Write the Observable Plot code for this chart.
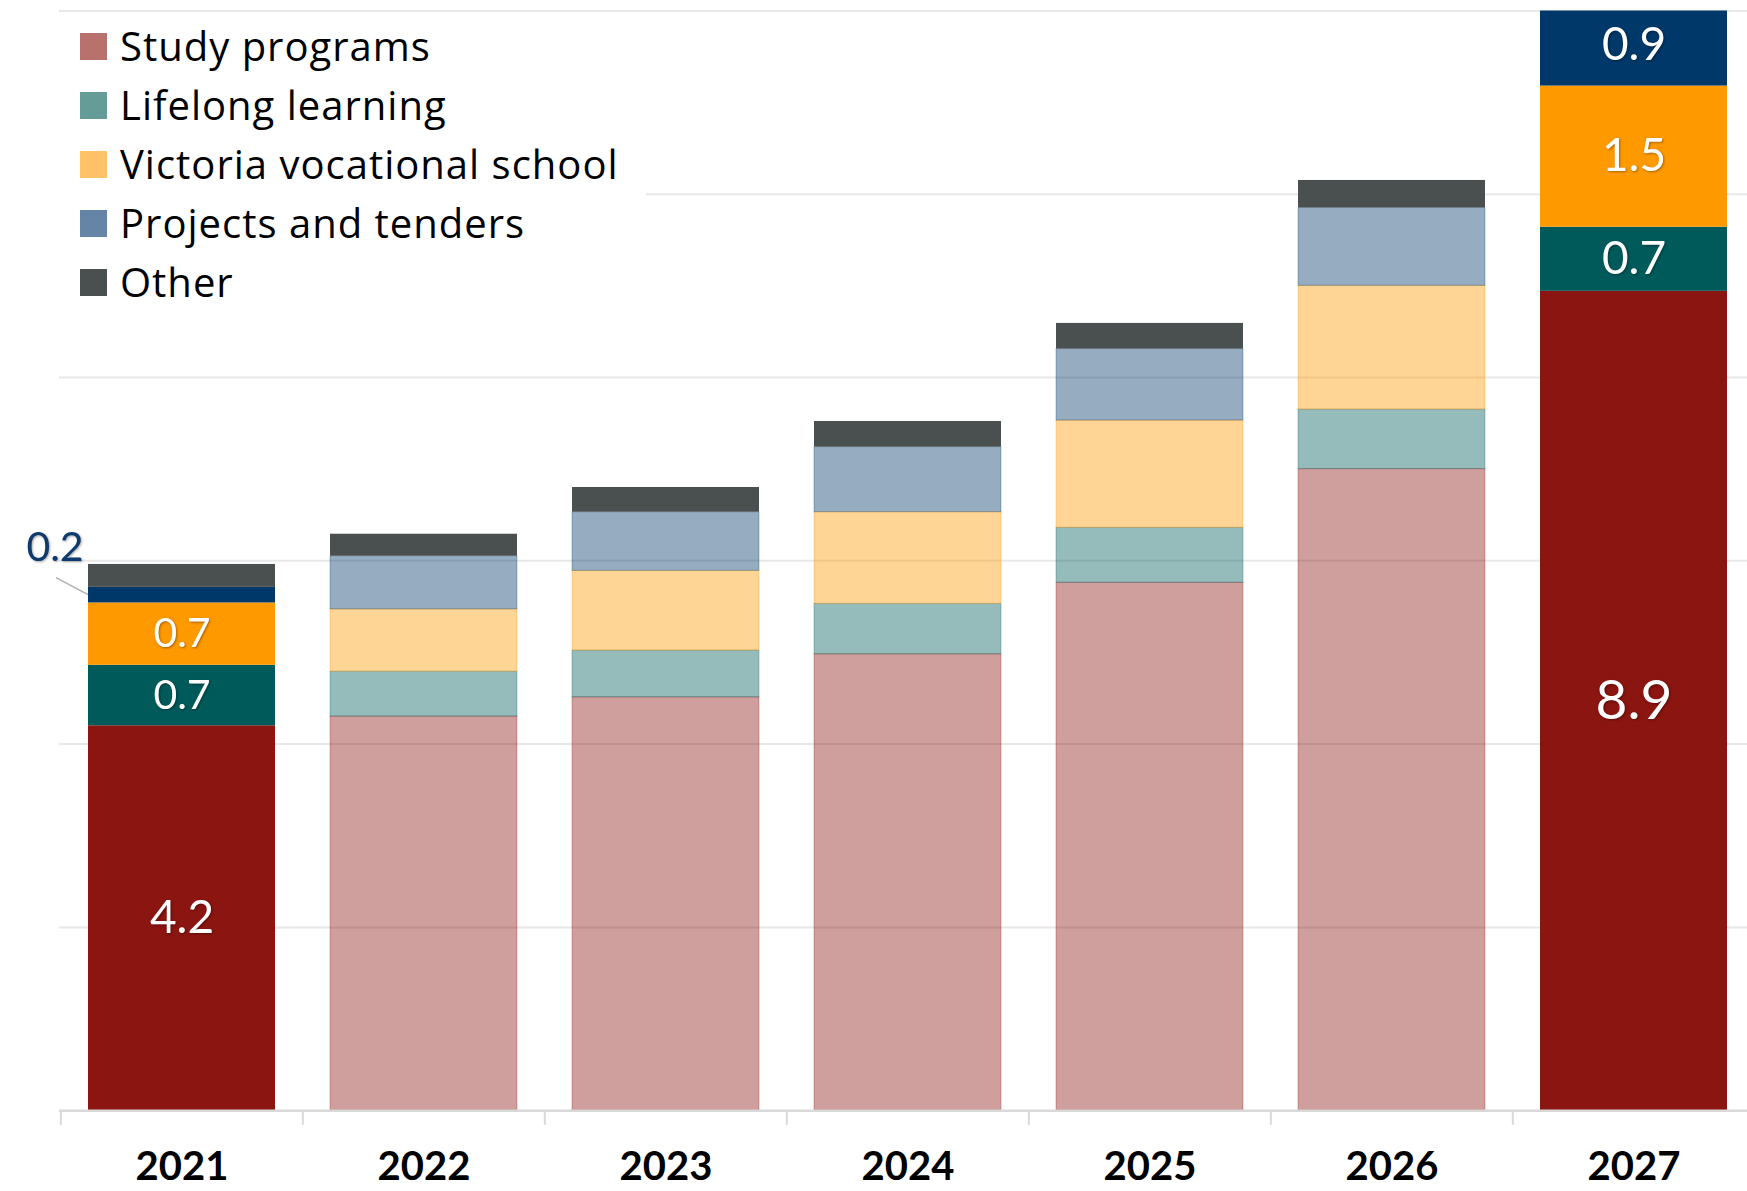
<!DOCTYPE html>
<html>
<head>
<meta charset="utf-8">
<script src="https://cdn.jsdelivr.net/npm/d3@7"></script>
<script src="https://cdn.jsdelivr.net/npm/@observablehq/plot@0.6"></script>
<style>
  html, body { margin: 0; padding: 0; background: #fff; overflow: hidden; }
  #wrap { position: relative; width: 1747px; height: 1191px; overflow: hidden; font-family: Lato, "Open Sans", sans-serif; }
  #legend { position: absolute; left: 59px; top: 16px; width: 587px; height: 300px; background: #fff; }
  .item { position: absolute; left: 21px; height: 40px; display: flex; align-items: center; }
  .sw { width: 27px; height: 27px; margin-right: 13px; flex: none; }
  .lab { font-family: "Open Sans", sans-serif; font-size: 40px; color: #000; white-space: nowrap; line-height: 1; letter-spacing: 1px; }
  #wrap svg { max-width: none !important; }
</style>
</head>
<body>
<div id="wrap"><div id="legend"></div></div>
<script>
// ---- data ----
const years = ["2021", "2022", "2023", "2024", "2025", "2026", "2027"];
const seriesNames = ["Study programs", "Lifelong learning", "Victoria vocational school", "Projects and tenders", "Other"];
const study    = [4.2, 4.3, 4.51, 4.98, 5.76, 7.0, 8.94];
const lifelong = [0.66, 0.49, 0.51, 0.55, 0.6, 0.65, 0.7];
const victoria = [0.68, 0.68, 0.87, 1.0, 1.17, 1.35, 1.54];
const projects = [0.17, 0.58, 0.64, 0.71, 0.78, 0.85, 0.9];
const other    = [0.25, 0.24, 0.27, 0.28, 0.28, 0.3, 0];
const gridTicks = [2, 4, 6, 8, 10, 12];
const highlightYears = ["2021", "2027"];
const barColors = ["#8B1510", "#005A5A", "#FF9900", "#003869", "#4A5050"];
const legendColors = ["#B8716C", "#669C98", "#FFC266", "#6685A6", "#4A5050"];
const outsideLabel = {year: "2021", series: "Projects and tenders"};

const seriesValues = [study, lifelong, victoria, projects, other];
const data = [];
years.forEach((year, i) => {
  seriesNames.forEach((s, j) => {
    const hi = highlightYears.includes(year);
    const isOutside = year === outsideLabel.year && s === outsideLabel.series;
    const labelled = hi && s !== "Other" && !isOutside;
    let fs = 41;
    if (year === "2027") fs = 46;
    if (year === "2021" && j === 0) fs = 46;
    if (year === "2027" && j === 0) fs = 55;
    const faded = !hi && s !== "Other";
    data.push({
      year, series: s, value: seriesValues[j][i],
      color: barColors[j],
      op: faded ? 0.41 : 1,
      sop: faded ? 0.3 : 0,
      label: labelled ? d3.format(".1f")(seriesValues[j][i]) : "",
      outside: isOutside ? d3.format(".1f")(seriesValues[j][i]) : "",
      fs
    });
  });
});

const plot = Plot.plot({
  width: 1756,
  height: 1191,
  marginLeft: 59,
  marginRight: 0,
  marginTop: 10.4,
  marginBottom: 80.8,
  x: {domain: years, paddingInner: 0.229, paddingOuter: 0.1145, axis: null},
  y: {domain: [0, 12], axis: null},
  color: {type: "identity"},
  opacity: {type: "identity"},
  style: {fontFamily: "Lato, 'Open Sans', sans-serif", background: "transparent", overflow: "visible", maxWidth: "none"},
  marks: [
    Plot.ruleY(gridTicks, {stroke: "#e8e8e8", strokeWidth: 2}),
    Plot.barY(data, {x: "year", y: "value", fill: "color", fillOpacity: "op", stroke: "color", strokeOpacity: "sop", strokeWidth: 1, clip: true}),
    Plot.ruleY([0], {stroke: "#d9d9d9", strokeWidth: 2.5}),
    Plot.ruleX(years, {x: d => d, y1: 0, y2: -0.16, dx: -121.2, stroke: "#d9d9d9", strokeWidth: 2}),
    Plot.text(years, {x: d => d, y: d => 0, dy: 56, text: d => d, fontSize: 40, fontWeight: "bold", fill: "#000", lineAnchor: "middle"}),
    Plot.text(data, Plot.stackY({x: "year", y: "value", text: "label", fill: "white", fontSize: "fs", lineAnchor: "middle"})),
    Plot.text(data, Plot.stackY({x: "year", y: "value", text: "outside", fill: "#0D3B6E", fontSize: 41, lineAnchor: "middle", dx: -127, dy: -47}))
  ]
});

plot.style.maxWidth = "none";
plot.style.position = "absolute";
plot.style.left = "0";
plot.style.top = "0";
document.getElementById("wrap").insertBefore(plot, document.getElementById("legend"));

// text shadows (skip year labels)
d3.select(plot).selectAll('g[aria-label="text"]')
  .filter((d, i) => i > 0)
  .style("filter", "drop-shadow(1px 1.5px 1px rgba(0,0,0,0.35))");

// leader line for outside label, positioned via Plot's scales
const xs = plot.scale("x"), ys = plot.scale("y");
const oi = years.indexOf(outsideLabel.year);
const sIdx = seriesNames.indexOf(outsideLabel.series);
let base = 0;
for (let j = 0; j < sIdx; j++) base += seriesValues[j][oi];
const mid = base + seriesValues[sIdx][oi] / 2;
const px = xs.apply(outsideLabel.year), py = ys.apply(mid);
d3.select(plot).append("line")
  .attr("x1", px).attr("y1", py)
  .attr("x2", px - 32).attr("y2", py - 17)
  .attr("stroke", "#b0b0b0").attr("stroke-width", 1.5);

// legend
const legend = d3.select("#legend");
seriesNames.forEach((s, j) => {
  const it = legend.append("div").attr("class", "item").style("top", (10 + j * 59) + "px");
  it.append("div").attr("class", "sw").style("background", legendColors[j]);
  it.append("div").attr("class", "lab").text(s);
});
</script>
</body>
</html>
